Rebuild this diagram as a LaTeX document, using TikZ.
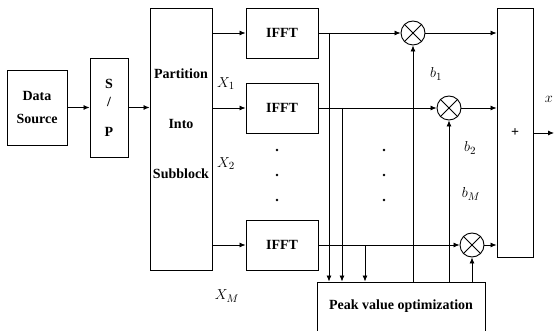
\documentclass[tikz,border=0pt]{standalone}
\usepackage{fontspec}
\setmainfont{Liberation Serif}
\usetikzlibrary{arrows.meta}

\begin{document}
\begin{tikzpicture}[
        x=1pt, y=-1pt,
        font=\fontsize{14}{16}\selectfont\bfseries,
        >={Latex[length=6pt,width=5pt]},
        box/.style={
            draw,
            line width=0.9pt,
            align=center,
            inner sep=2pt
        },
        mult/.style={draw, circle, line width=0.9pt, minimum size=24pt, inner sep=0pt},
        arrow/.style={->, line width=0.8pt},
        wire/.style={line width=0.8pt},
        sym/.style={font=\fontsize{15.5}{18}\selectfont}
    ]

    \useasboundingbox (0,0) rectangle (554,331);

    % input chain
    \node[box, minimum width=60pt, minimum height=75pt] (src) at (37,107.5) {Data\\[7pt]Source};
    \node[box, minimum width=38pt, minimum height=99pt] (sp) at (109,107.5) {S\\[2pt]/\\[14pt]P};
    \node[box, minimum width=62pt, minimum height=262pt] (part) at (181,139) {};
    \node[align=center] (parttxt) at (181,124) {Partition\\[34pt]Into\\[34pt]Subblock};

    % IFFT branches
    \node[box, minimum width=72pt, minimum height=50pt] (ifft1) at (282,33) {IFFT};
    \node[box, minimum width=72pt, minimum height=50pt] (ifft2) at (282,108) {IFFT};
    \node[box, minimum width=72pt, minimum height=50pt] (ifftM) at (282,245) {IFFT};

    % multipliers, adder, optimizer
    \node[mult] (m1) at (413,33) {};
    \node[mult] (m2) at (449,108) {};
    \node[mult] (mM) at (472,245) {};
    \node[box, minimum width=36pt, minimum height=249pt] (plus) at (515,132.5) {+};
    \node[box, minimum width=168pt, minimum height=49pt] (peak) at (401,306.5) {Peak value optimization};

    % labels
    \node[sym] (lx1) at (226,84) {$X_{1}$};
    \node[sym] (lx2) at (226,164) {$X_{2}$};
    \node[sym] (lxM) at (227,296) {$X_{M}$};
    \node[sym] (lb1) at (436,74) {$b_{1}$};
    \node[sym] (lb2) at (470,148) {$b_{2}$};
    \node[sym] (lbM) at (471,194) {$b_{M}$};
    \node[sym, anchor=east, inner sep=1pt] (lxout) at (554,99) {$x$};

    \foreach \y in {150,175,200} {
        \fill (277,\y) circle (1.3pt);
        \fill (384,\y) circle (1.3pt);
    }

    % crosses in the multipliers
    \foreach \m in {m1,m2,mM} {
        \draw[wire] (\m.north west) -- (\m.south east) (\m.north east) -- (\m.south west);
    }

    \coordinate (t1) at (329,33);
    \coordinate (t2) at (342,108);
    \coordinate (t3) at (365,245);
    \coordinate (out) at (554,133);

    \draw[arrow] (src) -- (sp);
    \draw[arrow] (sp.east) -- (sp.east -| part.west);
    \draw[arrow] (part.east |- ifft1.west) -- (ifft1.west);
    \draw[arrow] (part.east |- ifft2.west) -- (ifft2.west);
    \draw[arrow] (part.east |- ifftM.west) -- (ifftM.west);

    \draw[arrow] (ifft1) -- (m1);
    \draw[arrow] (ifft2) -- (m2);
    \draw[arrow] (ifftM) -- (mM);

    \draw[arrow] (t1) -- (t1 |- peak.north);
    \draw[arrow] (t2) -- (t2 |- peak.north);
    \draw[arrow] (t3) -- (t3 |- peak.north);

    \draw[arrow] (m1.south |- peak.north) -- (m1.south);
    \draw[arrow] (m2.south |- peak.north) -- (m2.south);
    \draw[arrow] (mM.south |- peak.north) -- (mM.south);

    \draw[arrow] (m1.east) -- (m1.east -| plus.west);
    \draw[arrow] (m2.east) -- (m2.east -| plus.west);
    \draw[arrow] (mM.east) -- (mM.east -| plus.west);
    \draw[arrow] (plus.east |- out) -- (out);

\end{tikzpicture}
\end{document}
